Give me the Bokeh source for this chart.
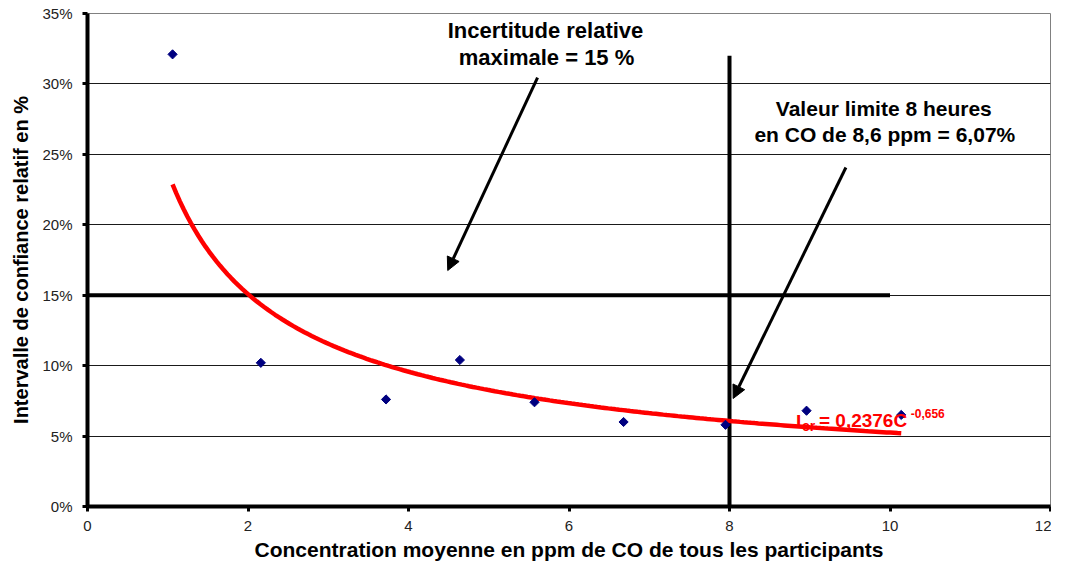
import numpy as np
from bokeh.plotting import figure
from bokeh.models import Range1d, FixedTicker, Arrow, NormalHead, Label
from bokeh.embed import file_html
from bokeh.resources import INLINE

# ---- data ----
conc_ppm = [1.06, 2.16, 3.72, 4.64, 5.57, 6.68, 7.95, 8.96, 10.14]
ic_pct = [32.1, 10.2, 7.6, 10.4, 7.4, 6.0, 5.8, 6.8, 6.5]
fit_a = 0.2376          # trendline Icr = a * C^b (printed on the chart)
fit_b = -0.656
x_ticks = [0, 2, 4, 6, 8, 10, 12]
y_ticks = [0, 5, 10, 15, 20, 25, 30, 35]
y_tick_labels = ["0%", "5%", "10%", "15%", "20%", "25%", "30%", "35%"]
limit_conc = 8          # vertical reference line (x)
limit_line_top = 32     # its top (%)
max_uncert = 15         # horizontal reference line (%)
max_uncert_x_end = 10

FONT = "Liberation Sans"

p = figure(width=1051, height=564, output_backend="svg", toolbar_location=None,
           x_range=Range1d(0, 12), y_range=Range1d(0, 35),
           min_border_left=87, min_border_right=1, min_border_top=13, min_border_bottom=58)
p.background_fill_color = "white"
p.border_fill_color = "white"
p.outline_line_color = "#808080"
p.outline_line_width = 1

# axes
p.xaxis.ticker = FixedTicker(ticks=x_ticks)
p.yaxis.ticker = FixedTicker(ticks=y_ticks)
p.yaxis.major_label_overrides = {t: l for t, l in zip(y_ticks, y_tick_labels)}
for ax in (p.xaxis[0], p.yaxis[0]):
    ax.axis_line_color = "black"
    ax.axis_line_width = 4
    ax.major_tick_line_color = "black"
    ax.major_tick_line_width = 3
    ax.major_tick_out = 5
    ax.major_tick_in = 0
    ax.minor_tick_line_color = None
    ax.major_label_text_font = FONT
    ax.major_label_text_font_size = "15px"
    ax.major_label_text_color = "#222222"
    ax.axis_label_text_font = FONT
    ax.axis_label_text_font_style = "bold"
    ax.axis_label_text_color = "black"
p.xaxis.major_label_standoff = 9
p.yaxis.major_label_standoff = 10
p.xaxis.axis_label = "Concentration moyenne en ppm de CO de tous les participants"
p.xaxis.axis_label_text_font_size = "21px"
p.xaxis.axis_label_standoff = 4
p.yaxis.axis_label = "Intervalle de confiance relatif en %"
p.yaxis.axis_label_text_font_size = "20px"
p.yaxis.axis_label_standoff = 7

p.xgrid.visible = False
p.ygrid.grid_line_color = "#1a1a1a"
p.ygrid.grid_line_width = 1

# reference lines
p.segment(x0=[0], y0=[max_uncert], x1=[max_uncert_x_end], y1=[max_uncert],
          line_color="black", line_width=4)
p.segment(x0=[limit_conc], y0=[0], x1=[limit_conc], y1=[limit_line_top],
          line_color="black", line_width=4)

# trendline from the printed equation
xf = np.linspace(min(conc_ppm), max(conc_ppm), 200)
yf = fit_a * xf ** fit_b * 100
p.line(xf, yf, line_color="#FF0000", line_width=4.5)

# data points (diamonds drawn as rotated squares)
p.scatter(conc_ppm, ic_pct, marker="square", angle=np.pi / 4, size=6.5,
          fill_color="#000080", line_color="#000080", line_width=1)

# helpers: reference pixel -> data
def dx(px):
    return (px - 87) / 80.42

def dy(py):
    return (506 - py) / 14.086

# arrows
p.add_layout(Arrow(end=NormalHead(size=13, fill_color="black", line_color="black", line_width=1),
                   x_start=dx(538), y_start=dy(77), x_end=dx(448), y_end=dy(270),
                   line_color="black", line_width=3))
p.add_layout(Arrow(end=NormalHead(size=13, fill_color="black", line_color="black", line_width=1),
                   x_start=dx(847), y_start=dy(167), x_end=dx(734), y_end=dy(398),
                   line_color="black", line_width=3))

def label(px, py, text, size, color="black", align="center", baseline="middle"):
    p.add_layout(Label(x=dx(px), y=dy(py), text=text, text_font=FONT,
                       text_font_style="bold", text_font_size=size, text_color=color,
                       text_align=align, text_baseline=baseline))

label(546, 30, "Incertitude relative", "22px")
label(547, 57, "maximale = 15 %", "22px")
label(885, 108, "Valeur limite 8 heures", "21px")
label(886, 134, "en CO de 8,6 ppm = 6,07%", "21px")

# equation
label(797, 421, "I", "19px", "#FF0000", "left", "alphabetic")
label(803, 425, "cr", "14px", "#FF0000", "left", "alphabetic")
label(820, 420, "= 0,2376C", "19px", "#FF0000", "left", "alphabetic")
label(912, 413, "-0,656", "12px", "#FF0000", "left", "alphabetic")

open("out.html", "w").write(file_html(p, INLINE))
